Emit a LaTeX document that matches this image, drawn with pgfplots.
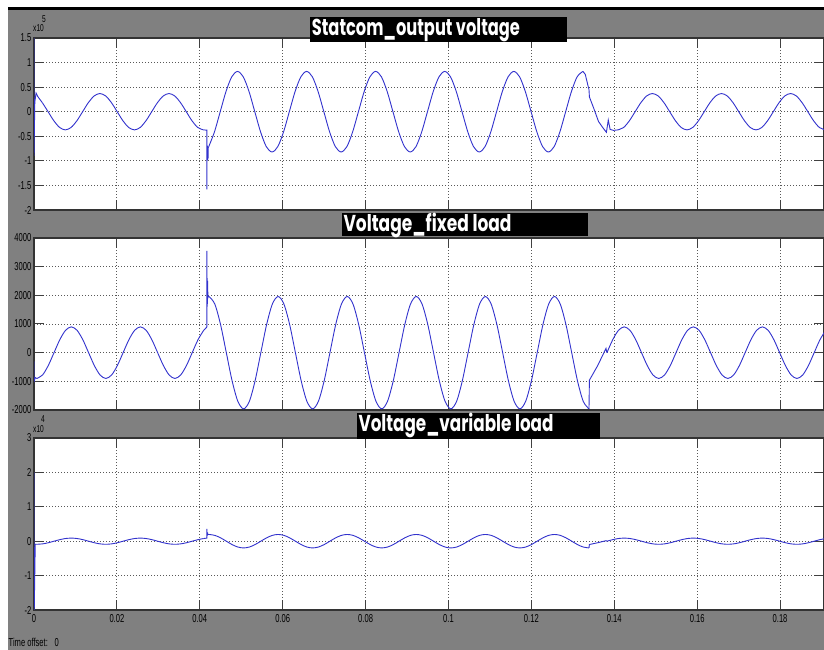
\documentclass[border=0pt]{standalone}
\usepackage{pgfplots}
\pgfplotsset{compat=1.18}
\usepackage{pgfplotstable}
\usepackage{graphicx}
\usepackage{fontspec}
\setmainfont{Liberation Sans}
\newfontfamily\narrowfont[FakeStretch=0.66]{Liberation Sans}
\newfontfamily\titlefont{Poppins}
\definecolor{scopegray}{RGB}{128,128,128}
\definecolor{lineblue}{RGB}{50,50,205}
\newcommand{\tickfont}{\narrowfont\fontsize{11.5pt}{13pt}\selectfont}
\newcommand{\expfont}{\narrowfont\fontsize{10pt}{12pt}\selectfont}

% ---------- fixed-load / variable-load voltage (V) ----------
\pgfplotstableread{
t v
0.00067 -900
0.00206 -779
0.00344 -450
0.00483 0
0.00622 450
0.00761 779
0.00900 900
0.01039 779
0.01178 450
0.01317 0
0.01456 -450
0.01594 -779
0.01733 -900
0.01872 -779
0.02011 -450
0.02150 0
0.02289 450
0.02428 779
0.02567 900
0.02706 779
0.02844 450
0.02983 0
0.03122 -450
0.03261 -779
0.03400 -900
0.03539 -779
0.03678 -450
0.03817 0
0.03956 450
0.04094 779
}\fixA
\pgfplotstableread{
t v
0.04094 779
0.04160 880
0.04170 900
0.04170 3550
0.04175 1600
0.04180 2600
0.04185 1700
0.04190 2500
0.04195 1900
0.04200 1950
0.04223 1960
}\fixS
\pgfplotstableread{
t v
0.04223 1960
0.04362 1697
0.04501 980
0.04640 0
0.04779 -980
0.04918 -1697
0.05057 -1960
0.05196 -1697
0.05334 -980
0.05473 0
0.05612 980
0.05751 1697
0.05890 1960
0.06029 1697
0.06168 980
0.06307 0
0.06446 -980
0.06584 -1697
0.06723 -1960
0.06862 -1697
0.07001 -980
0.07140 0
0.07279 980
0.07418 1697
0.07557 1960
0.07696 1697
0.07834 980
0.07973 0
0.08112 -980
0.08251 -1697
0.08390 -1960
0.08529 -1697
0.08668 -980
0.08807 0
0.08946 980
0.09084 1697
0.09223 1960
0.09362 1697
0.09501 980
0.09640 0
0.09779 -980
0.09918 -1697
0.10057 -1960
0.10196 -1697
0.10334 -980
0.10473 0
0.10612 980
0.10751 1697
0.10890 1960
0.11029 1697
0.11168 980
0.11307 0
0.11446 -980
0.11584 -1697
0.11723 -1960
0.11862 -1697
0.12001 -980
0.12140 0
0.12279 980
0.12418 1697
0.12557 1960
0.12696 1697
0.12834 980
0.12973 0
0.13112 -980
0.13251 -1697
0.13390 -1960
}\fixB
\pgfplotstableread{
t v
0.13390 -1960
0.13400 -960
0.13600 -450
0.13800 150
0.13812 60
0.13823 0
}\fixC
\pgfplotstableread{
t v
0.13823 0
0.13962 450
0.14101 779
0.14240 900
0.14379 779
0.14518 450
0.14657 0
0.14796 -450
0.14934 -779
0.15073 -900
0.15212 -779
0.15351 -450
0.15490 0
0.15629 450
0.15768 779
0.15907 900
0.16046 779
0.16184 450
0.16323 0
0.16462 -450
0.16601 -779
0.16740 -900
0.16879 -779
0.17018 -450
0.17157 0
0.17296 450
0.17434 779
0.17573 900
0.17712 779
0.17851 450
0.17990 0
0.18129 -450
0.18268 -779
0.18407 -900
0.18546 -779
0.18684 -450
0.18823 0
0.18962 450
0.19101 779
}\fixD

\pgfplotsset{
  scopeaxis/.style={
    scale only axis, width=790pt, height=172pt,
    xmin=0, xmax=0.1906,
    xtick={0,0.02,0.04,0.06,0.08,0.1,0.12,0.14,0.16,0.18},
    xtick pos=both, ytick pos=both,
    xticklabel pos=lower, yticklabel pos=left,
    tick align=inside, major tick length=10pt,
    grid=major,
    major grid style={black!65, line width=0.9pt, dash pattern=on 1pt off 2pt},
    axis line style={black!80, line width=1.1pt},
    tick style={black!75, line width=1pt},
    axis background/.style={fill=white},
    scaled ticks=false,
    ticklabel style={font=\tickfont, text=black},
    yticklabel style={anchor=east, inner sep=0pt, xshift=-2.5pt},
    xticklabel style={anchor=north, inner sep=0pt, yshift=-4.5pt},
  },
  sig/.style={color=lineblue, line width=0.9pt},
}

\begin{document}
\begin{tikzpicture}
\useasboundingbox (0pt,0pt) rectangle (824pt,650pt);
\clip (0pt,0pt) rectangle (824pt,650pt);
\fill[white] (0pt,0pt) rectangle (824pt,650pt);
\fill[scopegray] (8pt,0pt) rectangle (824pt,640pt);
\fill[black] (8pt,640pt) rectangle (824pt,643pt);

% ---------------- Panel 1 ----------------
\begin{axis}[scopeaxis, at={(34pt,440pt)}, anchor=south west,
  ymin=-200000, ymax=150000,
  ytick={-200000,-150000,-100000,-50000,0,50000,100000,150000},
  yticklabels={-2,-1.5,-1,-0.5,0,0.5,1,1.5},
  xticklabels={}]
\addplot[sig] coordinates {(0,150000) (0,-90000) (0.0002,20000) (0.0005,38000) (0.0009,31000) (0.00201,18500)};
\addplot[sig, smooth] coordinates {
(0.00201,18500) (0.00340,0) (0.00479,-18500) (0.00618,-32042) (0.00756,-37000)
(0.00895,-32042) (0.01034,-18500) (0.01173,0) (0.01312,18500) (0.01451,32042)
(0.01590,37000) (0.01729,32042) (0.01868,18500) (0.02007,0) (0.02146,-18500)
(0.02284,-32042) (0.02423,-37000) (0.02562,-32042) (0.02701,-18500) (0.02840,0)
(0.02979,18500) (0.03118,32042) (0.03257,37000) (0.03396,32042) (0.03535,18500)
(0.03674,0) (0.03812,-18500) (0.03951,-32042) (0.04090,-37000)};
\addplot[sig] coordinates {(0.04090,-37000) (0.0416,-37500) (0.0417,-37500) (0.0417,-158000)
(0.04175,-68000) (0.0418,-100000) (0.04185,-70000) (0.0419,-98000) (0.04195,-72000)
(0.0420,-95000) (0.04205,-73000) (0.04216,-71014)};
\addplot[sig, smooth] coordinates {
(0.04216,-71014) (0.04354,-41000) (0.04493,0) (0.04632,41000) (0.04771,71014)
(0.04910,82000) (0.05049,71014) (0.05188,41000) (0.05327,0) (0.05466,-41000)
(0.05604,-71014) (0.05743,-82000) (0.05882,-71014) (0.06021,-41000) (0.06160,0)
(0.06299,41000) (0.06438,71014) (0.06577,82000) (0.06716,71014) (0.06854,41000)
(0.06993,0) (0.07132,-41000) (0.07271,-71014) (0.07410,-82000) (0.07549,-71014)
(0.07688,-41000) (0.07827,0) (0.07966,41000) (0.08104,71014) (0.08243,82000)
(0.08382,71014) (0.08521,41000) (0.08660,0) (0.08799,-41000) (0.08938,-71014)
(0.09077,-82000) (0.09216,-71014) (0.09354,-41000) (0.09493,0) (0.09632,41000)
(0.09771,71014) (0.09910,82000) (0.10049,71014) (0.10188,41000) (0.10327,0)
(0.10466,-41000) (0.10604,-71014) (0.10743,-82000) (0.10882,-71014) (0.11021,-41000)
(0.11160,0) (0.11299,41000) (0.11438,71014) (0.11577,82000) (0.11716,71014)
(0.11854,41000) (0.11993,0) (0.12132,-41000) (0.12271,-71014) (0.12410,-82000)
(0.12549,-71014) (0.12688,-41000) (0.12827,0) (0.12966,41000) (0.13104,71014)
(0.13243,82000)};
\addplot[sig] coordinates {(0.13243,82000) (0.1330,76000) (0.1336,55000) (0.1339,45000)
(0.1340,30000) (0.1350,8000) (0.1362,-20000) (0.1372,-32000) (0.1381,-42000)
(0.13855,-17000) (0.1390,-36000) (0.1398,-38000) (0.14087,-37000)};
\addplot[sig, smooth] coordinates {
(0.14087,-37000) (0.14226,-32042) (0.14364,-18500) (0.14503,0) (0.14642,18500)
(0.14781,32042) (0.14920,37000) (0.15059,32042) (0.15198,18500) (0.15337,0)
(0.15476,-18500) (0.15614,-32042) (0.15753,-37000) (0.15892,-32042) (0.16031,-18500)
(0.16170,0) (0.16309,18500) (0.16448,32042) (0.16587,37000) (0.16726,32042)
(0.16864,18500) (0.17003,0) (0.17142,-18500) (0.17281,-32042) (0.17420,-37000)
(0.17559,-32042) (0.17698,-18500) (0.17837,0) (0.17976,18500) (0.18114,32042)
(0.18253,37000) (0.18392,32042) (0.18531,18500) (0.18670,0) (0.18809,-18500)
(0.18948,-32042) (0.19087,-37000)};
\end{axis}

% ---------------- Panel 2 ----------------
\begin{axis}[scopeaxis, at={(34pt,240pt)}, anchor=south west,
  ymin=-2000, ymax=4000,
  ytick={-2000,-1000,0,1000,2000,3000,4000},
  yticklabels={-2000,-1000,0,1000,2000,3000,4000},
  xticklabels={}]
\addplot[sig] coordinates {(0,-300) (0,-1000) (0.0003,-870) (0.00067,-900)};
\addplot[sig, smooth] table[x=t, y=v] {\fixA};
\addplot[sig] table[x=t, y=v] {\fixS};
\addplot[sig, smooth] table[x=t, y=v] {\fixB};
\addplot[sig] table[x=t, y=v] {\fixC};
\addplot[sig, smooth] table[x=t, y=v] {\fixD};
\end{axis}

% ---------------- Panel 3 ----------------
\begin{axis}[scopeaxis, at={(34pt,40pt)}, anchor=south west,
  ymin=-20000, ymax=30000,
  ytick={-20000,-10000,0,10000,20000,30000},
  yticklabels={-2,-1,0,1,2,3},
  xticklabels={0,0.02,0.04,0.06,0.08,0.1,0.12,0.14,0.16,0.18}]
\addplot[sig] coordinates {(0,20000) (0,-25000) (0.0003,-870) (0.00067,-900)};
\addplot[sig, smooth] table[x=t, y=v] {\fixA};
\addplot[sig] table[x=t, y=v] {\fixS};
\addplot[sig, smooth] table[x=t, y=v] {\fixB};
\addplot[sig] table[x=t, y=v] {\fixC};
\addplot[sig, smooth] table[x=t, y=v] {\fixD};
\end{axis}

% ---------------- exponent labels ----------------
\node[anchor=base west, inner sep=0pt, font=\expfont] at (33pt,618pt) {x10};
\node[anchor=base west, inner sep=0pt, font=\expfont] at (42pt,627.5pt) {5};
\node[anchor=base west, inner sep=0pt, font=\expfont] at (33pt,217.7pt) {x10};
\node[anchor=base west, inner sep=0pt, font=\expfont] at (41pt,227.2pt) {4};

% ---------------- title boxes ----------------
\fill[black] (310pt,607.7pt) rectangle (567pt,632.7pt);
\node[anchor=base west, inner sep=0pt, text=white] at (311.7pt,614.5pt)
  {\resizebox{208pt}{\height}{\titlefont\bfseries\fontsize{23pt}{25pt}\selectfont Statcom\_output voltage}};
\fill[black] (342pt,413.7pt) rectangle (588pt,437pt);
\node[anchor=base west, inner sep=0pt, text=white] at (343.3pt,418.7pt)
  {\resizebox{168pt}{\height}{\titlefont\bfseries\fontsize{23pt}{25pt}\selectfont Voltage\_fixed load}};
\fill[black] (357pt,210.7pt) rectangle (600pt,236.7pt);
\node[anchor=base west, inner sep=0pt, text=white] at (358.3pt,218.3pt)
  {\resizebox{195pt}{\height}{\titlefont\bfseries\fontsize{23pt}{25pt}\selectfont Voltage\_variable load}};

% ---------------- footer ----------------
\node[anchor=base west, inner sep=0pt, font=\tickfont] at (8.5pt,3.3pt) {Time offset:};
\node[anchor=base west, inner sep=0pt, font=\tickfont] at (54.5pt,3.3pt) {0};
\end{tikzpicture}
\end{document}
